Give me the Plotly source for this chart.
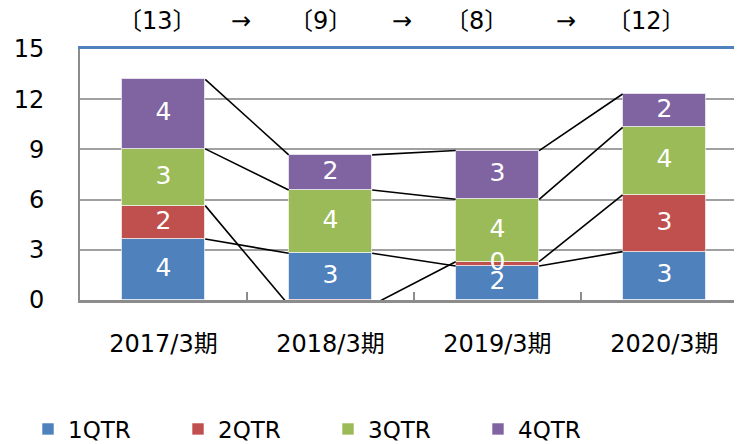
import plotly.graph_objects as go

categories = ["2017/3期", "2018/3期", "2019/3期", "2020/3期"]
series_names = ["1QTR", "2QTR", "3QTR", "4QTR"]
q1 = [3.65, 2.79, 2.03, 2.89]
q2 = [1.99, -0.30, 0.26, 3.39]
q3 = [3.39, 3.78, 3.73, 4.04]
q4 = [4.16, 2.10, 2.91, 1.99]
header_labels = ["〔13〕", "→", "〔9〕", "→", "〔8〕", "→", "〔12〕"]
header_px = [157, 241, 320, 402, 476, 566, 646]

colors = ["#4f81bd", "#c0504d", "#9bbb59", "#8064a2"]
series = [q1, q2, q3, q4]
FONT = "DejaVu Sans, Noto Sans CJK JP, sans-serif"
xs = list(range(len(categories)))
BAR_W = 0.5

fig = go.Figure()
for name, vals, col in zip(series_names, series, colors):
    fig.add_trace(go.Bar(
        x=xs, y=vals, name=name, width=BAR_W,
        marker=dict(color=col, line=dict(color="rgba(255,255,255,0.6)", width=1)),
        cliponaxis=True, hoverinfo="skip",
    ))

# series lines and label positions (relative stacking)
pos_base = [0.0] * len(xs)
neg_base = [0.0] * len(xs)
lab_x, lab_y, lab_t = [], [], []
for vals in series:
    ends = []
    for i, v in enumerate(vals):
        if v >= 0:
            lab_x.append(xs[i])
            lab_y.append(pos_base[i] + v / 2)
            lab_t.append(f"{v:.0f}")
            pos_base[i] += v
            ends.append(pos_base[i])
        else:
            neg_base[i] += v
            ends.append(neg_base[i])
    lx, ly = [], []
    for i in range(len(xs) - 1):
        lx += [xs[i] + BAR_W / 2, xs[i + 1] - BAR_W / 2, None]
        ly += [ends[i], ends[i + 1], None]
    fig.add_trace(go.Scatter(x=lx, y=ly, mode="lines", showlegend=False,
                             line=dict(color="black", width=1.6), hoverinfo="skip"))

fig.add_trace(go.Scatter(x=lab_x, y=lab_y, text=lab_t, mode="text", showlegend=False,
                         textfont=dict(color="white", size=25, family=FONT),
                         textposition="middle center", hoverinfo="skip", cliponaxis=False))

# invisible traces to attach extra axes (category labels / top border)
fig.add_trace(go.Scatter(x=xs, y=[0] * len(xs), xaxis="x2", mode="markers",
                         marker=dict(opacity=0), showlegend=False, hoverinfo="skip"))
fig.add_trace(go.Scatter(x=xs, y=[0] * len(xs), xaxis="x3", mode="markers",
                         marker=dict(opacity=0), showlegend=False, hoverinfo="skip"))

OFF = 8  # page body margin
PL, PT, PB = 80, 49, 300      # plot area in page pixels
W, H = 742 - OFF, 444 - OFF
L, T = PL - OFF, PT - OFF
B = H - (PB - OFF)
pw = W - L
ph = PB - PT
xr = [-0.5, 3.465]

for txt, px in zip(header_labels, header_px):
    fig.add_annotation(text=txt, xref="paper", yref="paper",
                       x=(px - PL) / pw, y=(PB - 21) / ph, xanchor="center", yanchor="middle",
                       showarrow=False, font=dict(size=24, color="black", family=FONT))

fig.update_layout(
    width=W, height=H,
    margin=dict(l=L, r=0, t=T, b=B, autoexpand=False),
    barmode="relative", bargap=0,
    plot_bgcolor="white", paper_bgcolor="white",
    font=dict(family=FONT, color="black", size=24),
    xaxis=dict(range=xr, tickvals=[0.5, 1.5, 2.5, 3.5], ticks="inside", ticklen=8,
               tickwidth=2, tickcolor="#8c8c8c", showticklabels=False, showgrid=False,
               zeroline=False, showline=True, linecolor="#8c8c8c", linewidth=3),
    xaxis2=dict(range=xr, overlaying="x", anchor="y", side="bottom",
                tickvals=xs, ticktext=categories, ticks="", showgrid=False,
                zeroline=False, showline=False, ticklabelstandoff=27,
                tickfont=dict(size=24, family=FONT)),
    xaxis3=dict(range=xr, overlaying="x", anchor="y", side="top", showticklabels=False,
                ticks="", showgrid=False, zeroline=False, showline=True,
                linecolor="#4f81bd", linewidth=2.5),
    yaxis=dict(range=[0, 15], tickvals=[0, 3, 6, 9, 12, 15], showgrid=True,
               gridcolor="#a0a0a0", gridwidth=2, zeroline=False, showline=True,
               linecolor="#8c8c8c", linewidth=2, ticks="", ticklabelstandoff=29,
               tickfont=dict(size=24, family=FONT)),
    legend=dict(orientation="h", x=(28 - PL) / pw, xanchor="left",
                y=(PB - 429) / ph, yanchor="middle",
                entrywidth=105, entrywidthmode="pixels",
                font=dict(size=23, family=FONT), traceorder="normal"),
    showlegend=True,
)

fig.write_html("out.html")
